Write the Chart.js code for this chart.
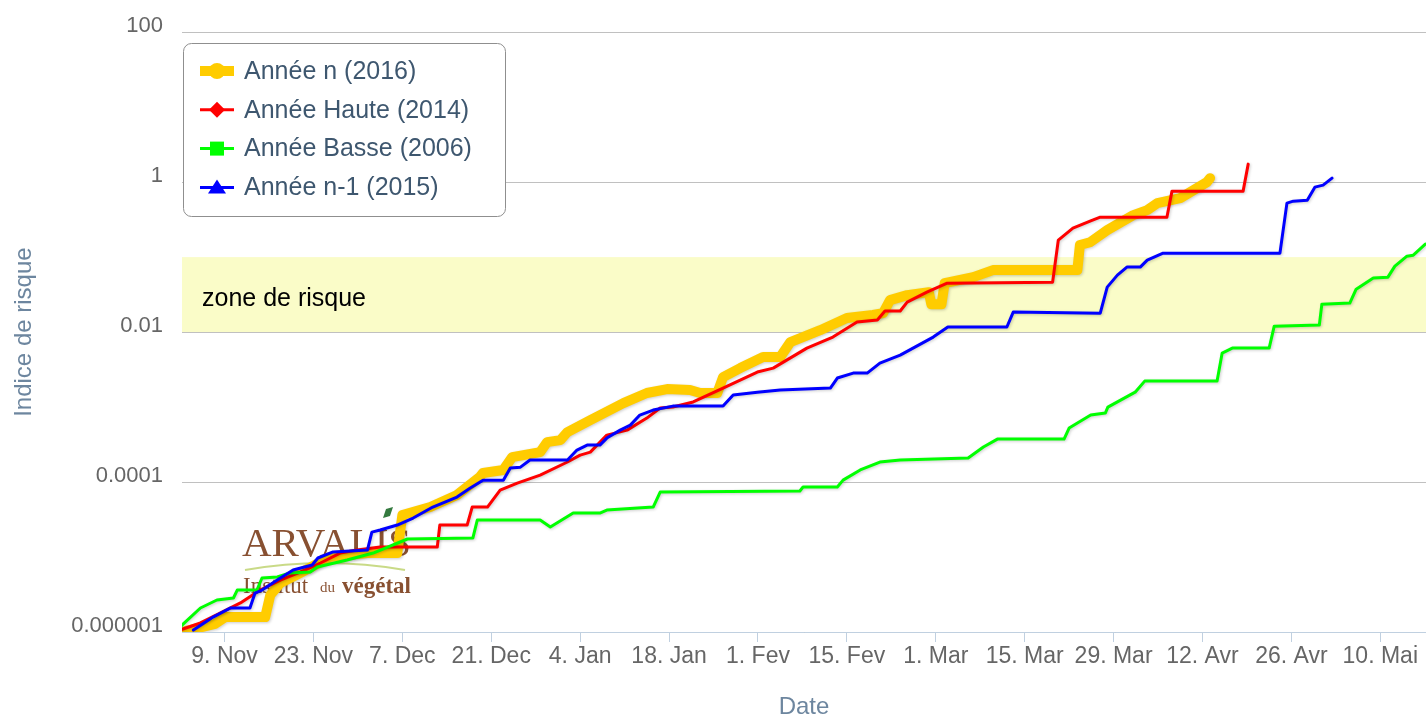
<!DOCTYPE html>
<html>
<head>
<meta charset="utf-8">
<title>Indice de risque</title>
<script src="https://cdn.jsdelivr.net/npm/chart.js@4.4.1/dist/chart.umd.min.js"></script>
<style>
  html, body { margin: 0; padding: 0; background: #fff; }
</style>
</head>
<body>
<canvas id="risque" width="1426" height="717"></canvas>
<script>
// Jours comptés depuis le 1er novembre (0 = 1 Nov)
const xTickJours = [8, 22, 36, 50, 64, 78, 92, 106, 120, 134, 148, 162, 176, 190];
const xTickLabels = ['9. Nov', '23. Nov', '7. Dec', '21. Dec', '4. Jan', '18. Jan', '1. Fev',
  '15. Fev', '1. Mar', '15. Mar', '29. Mar', '12. Avr', '26. Avr', '10. Mai'];
const yTickValeurs = [1e-6, 1e-4, 1e-2, 1, 100];
const yTickLabels = ['0.000001', '0.0001', '0.01', '1', '100'];

// zone de risque : entre 0.01 et 0.1
const zoneRisque = [0.01, 0.1];

// Année n (2016)
const anneeNJours = [1.8, 6.5, 8.1, 14.4, 15.2, 16.8, 19.9, 24.6, 30.5, 35.2, 36.0, 40.4, 44.6, 48.2,
  48.7, 51.9, 53.3, 57.7, 58.8, 60.9, 62.0, 65.6, 70.8, 74.5, 77.7, 81.3, 82.9, 85.6, 86.5, 89.2,
  92.8, 95.5, 97.1, 101.8, 106.0, 110.1, 111.7, 112.8, 115.5, 118.9, 119.3, 120.9, 121.4, 125.9,
  129.0, 142.3, 142.7, 144.3, 147.0, 151.1, 153.3, 154.9, 158.5, 162.7, 163.2];
const anneeNValeurs = [1.03e-6, 1.28e-6, 1.58e-6, 1.58e-6, 3.11e-6, 4.5e-6, 6.12e-6, 1.0e-5, 1.13e-5,
  1.13e-5, 3.63e-5, 4.64e-5, 6.71e-5, 1.17e-4, 1.32e-4, 1.45e-4, 2.15e-4, 2.51e-4, 3.41e-4, 3.63e-4,
  4.64e-4, 6.71e-4, 1.13e-3, 1.54e-3, 1.74e-3, 1.69e-3, 1.54e-3, 1.54e-3, 2.51e-3, 3.31e-3, 4.64e-3,
  4.64e-3, 7.36e-3, 1.06e-2, 1.54e-2, 1.69e-2, 1.79e-2, 2.67e-2, 3.11e-2, 3.41e-2, 2.36e-2, 2.36e-2,
  4.5e-2, 5.41e-2, 6.71e-2, 6.71e-2, 0.145, 0.158, 0.229, 0.363, 0.423, 0.525, 0.612, 1.0, 1.13];

// Année Haute (2014)
const anneeHauteJours = [1.0, 4.2, 7.3, 10.5, 13.6, 16.8, 19.9, 23.1, 26.2, 28.9, 32.5, 41.5, 41.9,
  46.2, 47.0, 49.4, 51.4, 54.1, 57.7, 62.0, 64.0, 65.6, 68.2, 71.4, 74.5, 76.6, 78.6, 81.8, 86.5,
  91.9, 94.4, 99.7, 103.8, 107.6, 110.8, 112.0, 114.4, 115.5, 118.6, 121.8, 138.4, 139.3, 141.6,
  144.3, 145.9, 156.4, 157.2, 168.4, 169.2];
const anneeHauteValeurs = [1.06e-6, 1.32e-6, 1.79e-6, 2.44e-6, 3.63e-6, 4.93e-6, 6.31e-6, 8.32e-6,
  1.13e-5, 1.24e-5, 1.36e-5, 1.36e-5, 2.67e-5, 2.67e-5, 4.64e-5, 4.64e-5, 7.82e-5, 9.7e-5, 1.24e-4,
  1.85e-4, 2.29e-4, 2.51e-4, 4.23e-4, 4.93e-4, 7.13e-4, 9.7e-4, 1.0e-3, 1.17e-3, 1.79e-3, 2.93e-3,
  3.31e-3, 6.12e-3, 8.58e-3, 1.36e-2, 1.45e-2, 1.91e-2, 1.91e-2, 2.51e-2, 3.41e-2, 4.5e-2, 4.64e-2,
  0.169, 0.244, 0.302, 0.341, 0.341, 0.759, 0.759, 1.74];

// Année Basse (2006)
const anneeBasseJours = [1.0, 4.2, 6.8, 9.4, 10.0, 13.1, 13.9, 16.3, 18.3, 21.5, 22.6, 27.3, 31.4,
  36.8, 47.1, 47.8, 57.7, 59.3, 62.9, 67.1, 68.2, 75.5, 76.6, 98.6, 99.1, 104.5, 105.4, 108.1, 111.2,
  114.4, 125.1, 127.5, 129.7, 140.2, 141.0, 144.4, 146.7, 147.1, 151.4, 152.9, 164.3, 165.1, 166.7,
  172.5, 173.3, 180.4, 180.8, 185.2, 186.2, 188.9, 191.2, 192.3, 194.2, 195.2, 197.1];
const anneeBasseValeurs = [1.17e-6, 2.09e-6, 2.67e-6, 2.84e-6, 3.63e-6, 3.63e-6, 5.25e-6, 5.41e-6,
  6.12e-6, 6.31e-6, 7.36e-6, 9.12e-6, 1.13e-5, 1.74e-5, 1.79e-5, 3.11e-5, 3.11e-5, 2.51e-5, 3.86e-5,
  3.86e-5, 4.23e-5, 4.64e-5, 7.36e-5, 7.59e-5, 8.58e-5, 8.58e-5, 1.06e-4, 1.45e-4, 1.85e-4, 1.97e-4,
  2.09e-4, 2.93e-4, 3.74e-4, 3.74e-4, 5.25e-4, 7.82e-4, 8.32e-4, 1.0e-3, 1.58e-3, 2.22e-3, 2.22e-3,
  5.25e-3, 6.12e-3, 6.12e-3, 1.2e-2, 1.24e-2, 2.36e-2, 2.44e-2, 3.74e-2, 5.25e-2, 5.41e-2, 7.59e-2,
  0.103, 0.106, 0.149];

// Année n-1 (2015)
const anneeN1Jours = [3.1, 6.2, 8.9, 12.0, 12.8, 13.9, 16.3, 18.8, 21.8, 22.7, 25.1, 30.5, 31.2,
  32.5, 35.2, 37.7, 40.8, 44.6, 46.7, 48.7, 51.9, 53.0, 54.6, 56.1, 62.0, 63.5, 65.1, 67.1, 68.2,
  70.3, 71.9, 73.4, 75.5, 78.6, 86.5, 88.1, 91.9, 95.5, 103.4, 104.5, 107.0, 109.2, 111.2, 114.4,
  119.6, 121.9, 131.2, 132.2, 145.9, 147.0, 148.6, 150.1, 152.2, 153.3, 155.8, 174.2, 175.3, 176.3,
  178.5, 179.7, 181.0, 182.4];
const anneeN1Valeurs = [1.06e-6, 1.58e-6, 2.09e-6, 2.09e-6, 3.31e-6, 3.63e-6, 4.93e-6, 6.71e-6,
  7.82e-6, 9.7e-6, 1.17e-5, 1.24e-5, 2.15e-5, 2.29e-5, 2.67e-5, 3.31e-5, 4.64e-5, 6.31e-5, 8.32e-5,
  1.06e-4, 1.06e-4, 1.54e-4, 1.58e-4, 1.97e-4, 1.97e-4, 2.67e-4, 3.11e-4, 3.11e-4, 3.86e-4, 4.93e-4,
  5.75e-4, 7.82e-4, 9.12e-4, 1.03e-3, 1.03e-3, 1.45e-3, 1.58e-3, 1.69e-3, 1.79e-3, 2.44e-3, 2.84e-3,
  2.84e-3, 3.86e-3, 4.93e-3, 8.58e-3, 1.17e-2, 1.17e-2, 1.85e-2, 1.79e-2, 3.98e-2, 5.75e-2, 7.36e-2,
  7.36e-2, 9.12e-2, 0.113, 0.113, 0.525, 0.558, 0.575, 0.858, 0.912, 1.13];

const points = (jours, valeurs) => jours.map((j, i) => ({ x: j, y: valeurs[i] }));

const police = 'Liberation Sans, Arial, sans-serif';

// bande jaune + libellé
const zonePlugin = {
  id: 'zone',
  beforeDraw(chart) {
    const { ctx, chartArea, scales } = chart;
    const haut = scales.y.getPixelForValue(zoneRisque[1]);
    const bas = scales.y.getPixelForValue(zoneRisque[0]);
    ctx.save();
    ctx.fillStyle = '#FAFCC8';
    ctx.fillRect(chartArea.left, haut, chartArea.right - chartArea.left, bas - haut);
    ctx.fillStyle = '#000';
    ctx.font = '25px ' + police;
    ctx.textBaseline = 'middle';
    ctx.fillText('zone de risque', chartArea.left + 20, (haut + bas) / 2 + 4);
    ctx.restore();
  }
};

// logo ARVALIS en filigrane
const logoPlugin = {
  id: 'logo',
  beforeDatasetsDraw(chart) {
    const ctx = chart.ctx;
    ctx.save();
    ctx.globalAlpha = 0.9;
    ctx.fillStyle = '#7B3D1B';
    ctx.font = '41px Liberation Serif, serif';
    ctx.textBaseline = 'alphabetic';
    ctx.fillText('ARVALIS', 242, 556);
    ctx.strokeStyle = '#C3D67A';
    ctx.lineWidth = 2;
    ctx.beginPath();
    ctx.moveTo(245, 570);
    ctx.quadraticCurveTo(325, 556, 405, 570);
    ctx.stroke();
    ctx.font = '23px Liberation Serif, serif';
    ctx.fillText('Institut', 243, 593);
    ctx.font = '15px Liberation Serif, serif';
    ctx.fillText('du', 320, 592);
    ctx.font = 'bold 23px Liberation Serif, serif';
    ctx.fillText('végétal', 342, 593);
    ctx.fillStyle = '#1E6B2A';
    ctx.beginPath();
    ctx.moveTo(383, 518); ctx.lineTo(386, 509); ctx.lineTo(393, 507); ctx.lineTo(390, 516);
    ctx.closePath();
    ctx.fill();
    ctx.restore();
  }
};

// ombre légère sous les courbes
const ombrePlugin = {
  id: 'ombre',
  beforeDatasetDraw(chart) {
    const ctx = chart.ctx;
    ctx.save();
    ctx.shadowColor = 'rgba(0,0,0,0.2)';
    ctx.shadowBlur = 3;
    ctx.shadowOffsetX = 1;
    ctx.shadowOffsetY = 1;
  },
  afterDatasetDraw(chart) {
    chart.ctx.restore();
  }
};

// légende encadrée en haut à gauche
const legendePlugin = {
  id: 'legende',
  afterDatasetsDraw(chart) {
    const ctx = chart.ctx;
    ctx.save();
    ctx.beginPath();
    ctx.roundRect(183.5, 43.5, 322, 173, 8);
    ctx.fillStyle = '#fff';
    ctx.fill();
    ctx.strokeStyle = '#8F8F8F';
    ctx.lineWidth = 1;
    ctx.stroke();
    chart.data.datasets.forEach((ds, i) => {
      const y = 71 + i * 38.8;
      ctx.strokeStyle = ds.borderColor;
      ctx.fillStyle = ds.borderColor;
      ctx.lineWidth = ds.borderWidth;
      ctx.beginPath();
      ctx.moveTo(200, y);
      ctx.lineTo(234, y);
      ctx.stroke();
      ctx.beginPath();
      if (ds.marqueur === 'rond') {
        ctx.arc(217, y, 8, 0, Math.PI * 2);
      } else if (ds.marqueur === 'losange') {
        ctx.moveTo(217, y - 8); ctx.lineTo(225, y); ctx.lineTo(217, y + 8); ctx.lineTo(209, y);
      } else if (ds.marqueur === 'carre') {
        ctx.rect(210, y - 7, 14, 14);
      } else {
        ctx.moveTo(217, y - 8); ctx.lineTo(226, y + 6); ctx.lineTo(208, y + 6);
      }
      ctx.closePath();
      ctx.fill();
      ctx.fillStyle = '#3E576F';
      ctx.font = '25px ' + police;
      ctx.textBaseline = 'middle';
      ctx.fillText(ds.label, 244, y + 1);
    });
    ctx.restore();
  }
};

const serie = (label, jours, valeurs, couleur, epaisseur, marqueur, ordre) => ({
  label: label,
  data: points(jours, valeurs),
  borderColor: couleur,
  backgroundColor: couleur,
  borderWidth: epaisseur,
  borderJoinStyle: 'round',
  borderCapStyle: 'round',
  pointRadius: 0,
  tension: 0,
  marqueur: marqueur,
  order: ordre
});

new Chart(document.getElementById('risque'), {
  type: 'line',
  data: {
    datasets: [
      serie('Année n (2016)', anneeNJours, anneeNValeurs, '#FFCC00', 10, 'rond', 4),
      serie('Année Haute (2014)', anneeHauteJours, anneeHauteValeurs, '#FF0000', 3, 'losange', 3),
      serie('Année Basse (2006)', anneeBasseJours, anneeBasseValeurs, '#00FF00', 3, 'carre', 2),
      serie('Année n-1 (2015)', anneeN1Jours, anneeN1Valeurs, '#0000FF', 3, 'triangle', 1)
    ]
  },
  options: {
    responsive: false,
    animation: false,
    layout: { padding: { top: 32, right: 0, bottom: 0, left: 0 } },
    plugins: {
      legend: { display: false },
      tooltip: { enabled: false }
    },
    scales: {
      x: {
        type: 'linear',
        min: 1.3,
        max: 197.2,
        afterBuildTicks: s => { s.ticks = xTickJours.map(v => ({ value: v })); },
        afterFit: s => { s.height = 85; },
        ticks: {
          callback: (v, i) => xTickLabels[i],
          color: '#666',
          font: { family: police, size: 23 },
          maxRotation: 0,
          autoSkip: false,
          padding: 1
        },
        grid: { drawOnChartArea: false, drawTicks: true, tickLength: 10, color: '#C0D0E0' },
        border: { color: '#C0D0E0' },
        title: {
          display: true,
          text: 'Date',
          color: '#6D869F',
          font: { family: police, size: 24, lineHeight: 0.8 },
          padding: { top: 0, bottom: 0 }
        }
      },
      y: {
        type: 'logarithmic',
        min: 1e-6,
        max: 100,
        afterBuildTicks: s => { s.ticks = yTickValeurs.map(v => ({ value: v })); },
        afterFit: s => { s.width = 182; },
        ticks: {
          callback: (v, i) => yTickLabels[i],
          color: '#666',
          font: { family: police, size: 22 },
          padding: 19,
          labelOffset: -6,
          autoSkip: false
        },
        grid: { color: '#C0C0C0', drawTicks: false },
        border: { display: false },
        title: {
          display: true,
          text: 'Indice de risque',
          color: '#6D869F',
          font: { family: police, size: 24 },
          padding: { top: 10, bottom: 0 }
        }
      }
    }
  },
  plugins: [zonePlugin, logoPlugin, ombrePlugin, legendePlugin]
});
</script>
</body>
</html>
